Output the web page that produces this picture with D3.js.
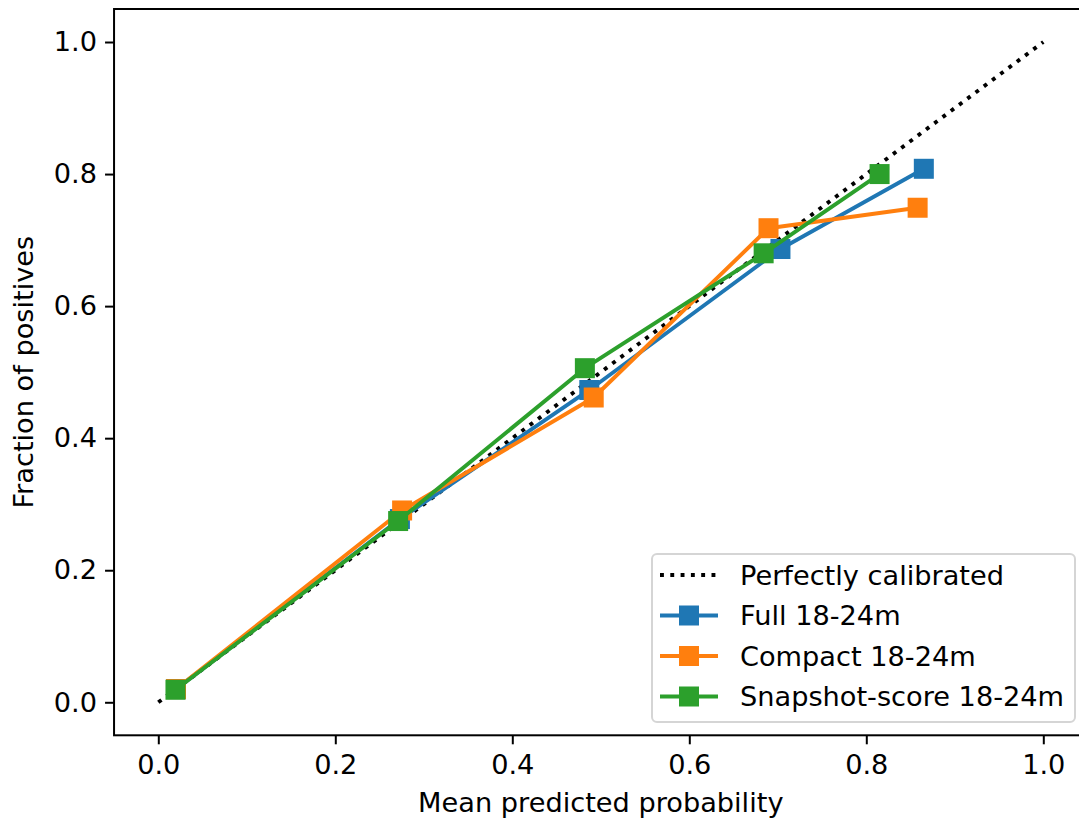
<!DOCTYPE html>
<html><head><meta charset="utf-8">
<script src="https://cdn.jsdelivr.net/npm/d3@7"></script>
<style>body{margin:0;background:#fff}svg{display:block}text{font-family:"DejaVu Sans",sans-serif;fill:#000}</style>
</head><body>
<script>
const seriesNames = ["Full 18-24m", "Compact 18-24m", "Snapshot-score 18-24m"];
const seriesColors = ["#1f77b4", "#ff7f0e", "#2ca02c"];
const calibX = [0, 1];
const calibY = [0, 1];
const fullX = [0.020, 0.273, 0.487, 0.703, 0.865];
const fullY = [0.020, 0.2775, 0.473, 0.6865, 0.808];
const compactX = [0.020, 0.2755, 0.492, 0.6895, 0.858];
const compactY = [0.020, 0.2905, 0.4616, 0.718, 0.749];
const snapX = [0.0194, 0.271, 0.482, 0.684, 0.815];
const snapY = [0.019, 0.2745, 0.506, 0.680, 0.800];
const xTicks = [0, 0.2, 0.4, 0.6, 0.8, 1.0];
const yTicks = [0, 0.2, 0.4, 0.6, 0.8, 1.0];

const W = 1079, H = 825;
const svg = d3.select("body").append("svg").attr("width", W).attr("height", H);
const x = d3.scaleLinear().domain([-0.05, 1.05]).range([114.05, 1087.55]);
const y = d3.scaleLinear().domain([-0.05, 1.05]).range([735.3, 9.0]);
const fs = 27.2;

// axes
const xAxis = d3.axisBottom(x).tickValues(xTicks).tickFormat(d3.format(".1f")).tickSize(9).tickPadding(7);
const yAxis = d3.axisLeft(y).tickValues(yTicks).tickFormat(d3.format(".1f")).tickSize(9).tickPadding(8);
const gx = svg.append("g").attr("transform", `translate(0,${y(-0.05)})`).call(xAxis);
const gy = svg.append("g").attr("transform", `translate(${x(-0.05)},0)`).call(yAxis);
[gx, gy].forEach(g => {
  g.select(".domain").remove();
  g.selectAll(".tick line").attr("stroke", "#000").attr("stroke-width", 2);
  g.selectAll(".tick text").attr("font-size", fs).attr("font-family", "DejaVu Sans").attr("fill", "#000");
});
gx.selectAll(".tick text").attr("dy", "0.85em");

// data lines
const line = d3.line().x(d => x(d[0])).y(d => y(d[1]));
const plot = svg.append("g");
plot.append("path").datum(d3.zip(calibX, calibY)).attr("d", line)
  .attr("fill", "none").attr("stroke", "#000").attr("stroke-width", 3.9).attr("stroke-dasharray", "3.9,6.4");

const series = [d3.zip(fullX, fullY), d3.zip(compactX, compactY), d3.zip(snapX, snapY)];
const ms = 20;
series.forEach((pts, i) => {
  const g = plot.append("g");
  g.append("path").datum(pts).attr("d", line).attr("fill", "none")
    .attr("stroke", seriesColors[i]).attr("stroke-width", 3.9).attr("stroke-linejoin", "round");
  g.selectAll("rect").data(pts).join("rect")
    .attr("x", d => x(d[0]) - ms / 2).attr("y", d => y(d[1]) - ms / 2)
    .attr("width", ms).attr("height", ms).attr("fill", seriesColors[i]);
});

// spines
svg.append("rect").attr("x", x(-0.05)).attr("y", y(1.05))
  .attr("width", x(1.05) - x(-0.05)).attr("height", y(-0.05) - y(1.05))
  .attr("fill", "none").attr("stroke", "#000").attr("stroke-width", 2);

// labels
svg.append("text").attr("x", (x(-0.05) + x(1.05)) / 2).attr("y", 812)
  .attr("text-anchor", "middle").attr("font-size", fs).text("Mean predicted probability");
svg.append("text").attr("transform", `translate(33,${(y(-0.05) + y(1.05)) / 2}) rotate(-90)`)
  .attr("text-anchor", "middle").attr("font-size", fs).text("Fraction of positives");

// legend
const lg = svg.append("g");
lg.append("rect").attr("x", 652).attr("y", 554).attr("width", 423).attr("height", 168)
  .attr("rx", 5).attr("fill", "#fff").attr("fill-opacity", 0.8).attr("stroke", "#d5d5d5").attr("stroke-width", 2);
const rows = [{name: "Perfectly calibrated", color: "#000", dotted: true}]
  .concat(seriesNames.map((n, i) => ({name: n, color: seriesColors[i], dotted: false})));
rows.forEach((r, i) => {
  const cy = 575 + i * 40.5;
  const l = lg.append("line").attr("x1", 660).attr("x2", 718).attr("y1", cy).attr("y2", cy)
    .attr("stroke", r.color).attr("stroke-width", 3.9);
  if (r.dotted) l.attr("stroke-dasharray", "3.9,6.4");
  else lg.append("rect").attr("x", 689 - ms / 2).attr("y", cy - ms / 2).attr("width", ms).attr("height", ms).attr("fill", r.color);
  lg.append("text").attr("x", 740).attr("y", cy).attr("dy", "0.35em").attr("font-size", fs).text(r.name);
});
</script>
</body></html>
